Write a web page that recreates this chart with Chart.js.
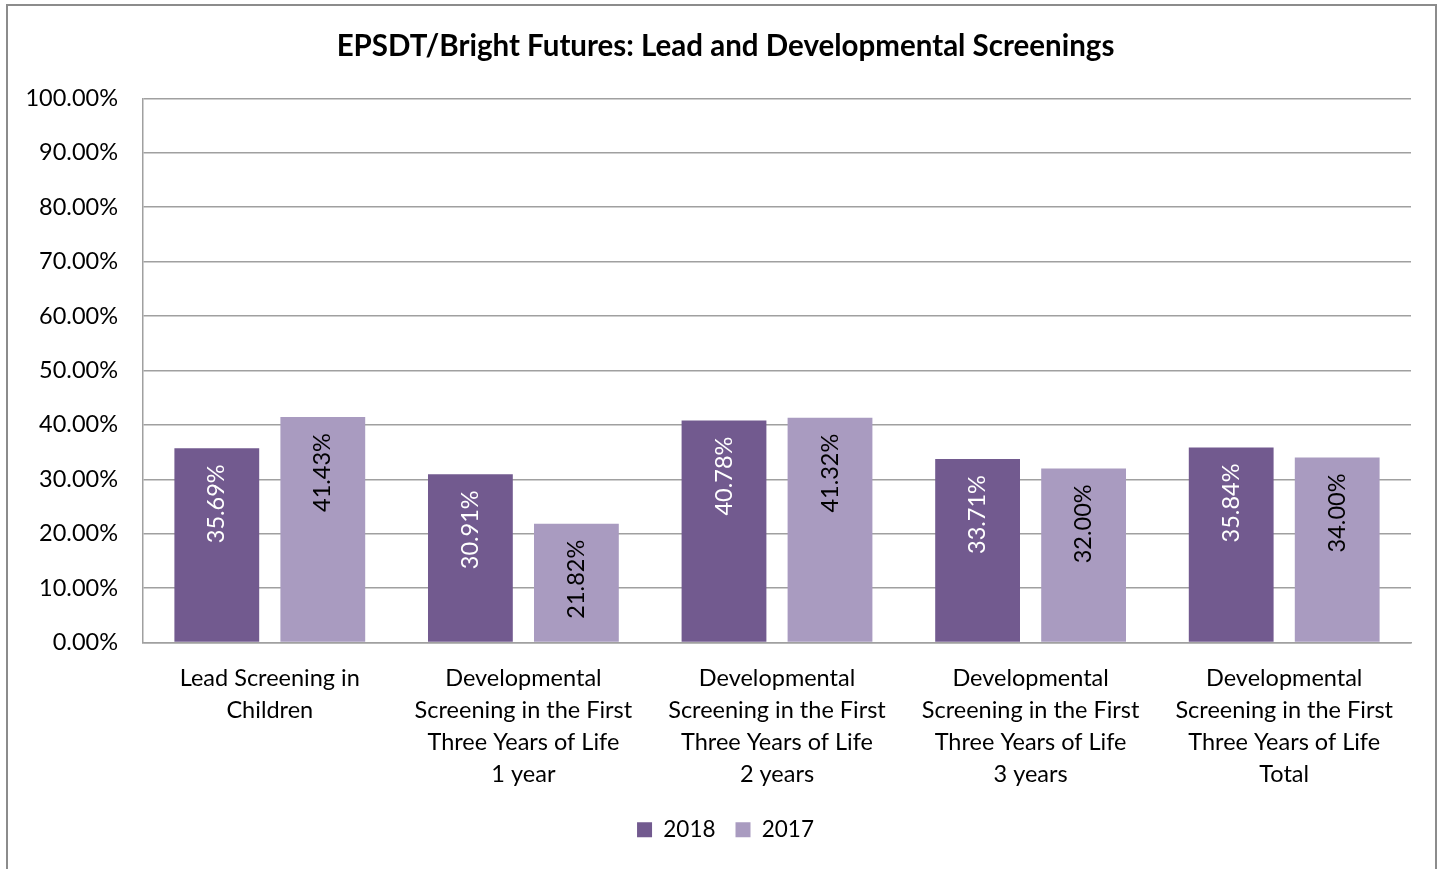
<!DOCTYPE html>
<html>
<head>
<meta charset="utf-8">
<script src="https://cdn.jsdelivr.net/npm/chart.js@4.4.0/dist/chart.umd.min.js"></script>
<style>
    html, body { margin: 0; padding: 0; background: #fff; }
    #wrap { position: relative; width: 1448px; height: 869px; }
    #frame { position: absolute; left: 6px; top: 4px; width: 1431px; height: 880px; border: 2px solid #8c8c8c; box-sizing: border-box; pointer-events: none; }
</style>
</head>
<body>
<div id="wrap">
    <canvas id="chart1" width="1448" height="869"></canvas>
    <div id="frame"></div>
</div>
<script>
const categories = [
    ['Lead Screening in', 'Children'],
    ['Developmental', 'Screening in the First', 'Three Years of Life', '1 year'],
    ['Developmental', 'Screening in the First', 'Three Years of Life', '2 years'],
    ['Developmental', 'Screening in the First', 'Three Years of Life', '3 years'],
    ['Developmental', 'Screening in the First', 'Three Years of Life', 'Total']
];
const values2018 = [35.69, 30.91, 40.78, 33.71, 35.84];
const values2017 = [41.43, 21.82, 41.32, 32.00, 34.00];
const yTicks = [0, 10, 20, 30, 40, 50, 60, 70, 80, 90, 100];

const FONT = 'Lato, "Open Sans", sans-serif';

// draws the rotated value inside the top of every bar
const barLabels = {
    id: 'barLabels',
    afterDatasetsDraw(chart) {
        const ctx = chart.ctx;
        chart.data.datasets.forEach((dataset, i) => {
            const meta = chart.getDatasetMeta(i);
            meta.data.forEach((bar, j) => {
                ctx.save();
                ctx.translate(bar.x, bar.y + 16);
                ctx.rotate(-Math.PI / 2);
                ctx.font = '23.5px ' + FONT;
                ctx.fillStyle = dataset.labelColor;
                ctx.textAlign = 'right';
                ctx.textBaseline = 'middle';
                ctx.fillText(dataset.data[j].toFixed(2) + '%', 0, 0);
                ctx.restore();
            });
        });
    }
};

// title and legend are centred on the whole frame, not on the plot
const centerOnFrame = {
    id: 'centerOnFrame',
    afterLayout(chart) {
        [chart.titleBlock, chart.legend].forEach(box => {
            if (box) {
                box.left += 20;
                box.right += 20;
            }
        });
    }
};

function init() {
    const ctx = document.getElementById('chart1').getContext('2d');
    new Chart(ctx, {
        type: 'bar',
        data: {
            labels: categories,
            datasets: [
                {
                    label: '2018',
                    data: values2018,
                    backgroundColor: '#725a8f',
                    labelColor: '#ffffff',
                    categoryPercentage: 0.836,
                    barPercentage: 0.8
                },
                {
                    label: '2017',
                    data: values2017,
                    backgroundColor: '#a99bc0',
                    labelColor: '#000000',
                    categoryPercentage: 0.836,
                    barPercentage: 0.8
                }
            ]
        },
        options: {
            responsive: false,
            animation: false,
            layout: { padding: { left: 0, right: 37, top: 0, bottom: 18 } },
            scales: {
                x: {
                    grid: { display: false, drawTicks: false },
                    border: { color: '#a0a0a0', width: 1.5 },
                    ticks: {
                        color: '#000',
                        font: { family: FONT, size: 23.5, lineHeight: 32 / 23.5 },
                        padding: 20,
                        maxRotation: 0,
                        autoSkip: false
                    },
                    afterFit: (scale) => { scale.height = 156; }
                },
                y: {
                    min: 0,
                    max: 100,
                    afterBuildTicks: (scale) => { scale.ticks = yTicks.map(v => ({ value: v })); },
                    grid: { color: '#a0a0a0', lineWidth: 1.5, drawTicks: false },
                    border: { color: '#a0a0a0', width: 1.5 },
                    ticks: {
                        color: '#000',
                        font: { family: FONT, size: 23.5 },
                        padding: 25,
                        callback: (v) => v.toFixed(2) + '%'
                    },
                    afterFit: (scale) => { scale.width = 143; }
                }
            },
            plugins: {
                title: {
                    display: true,
                    text: 'EPSDT/Bright Futures: Lead and Developmental Screenings',
                    color: '#000',
                    font: { family: FONT, size: 29.5, weight: 'bold' },
                    padding: { top: 29, bottom: 34 }
                },
                legend: {
                    position: 'bottom',
                    labels: {
                        color: '#000',
                        boxWidth: 15,
                        boxHeight: 15,
                        padding: 20,
                        font: { family: FONT, size: 22.5 }
                    }
                },
                tooltip: { enabled: false }
            }
        },
        plugins: [barLabels, centerOnFrame]
    });
}

window.onload = init;
</script>
</body>
</html>
